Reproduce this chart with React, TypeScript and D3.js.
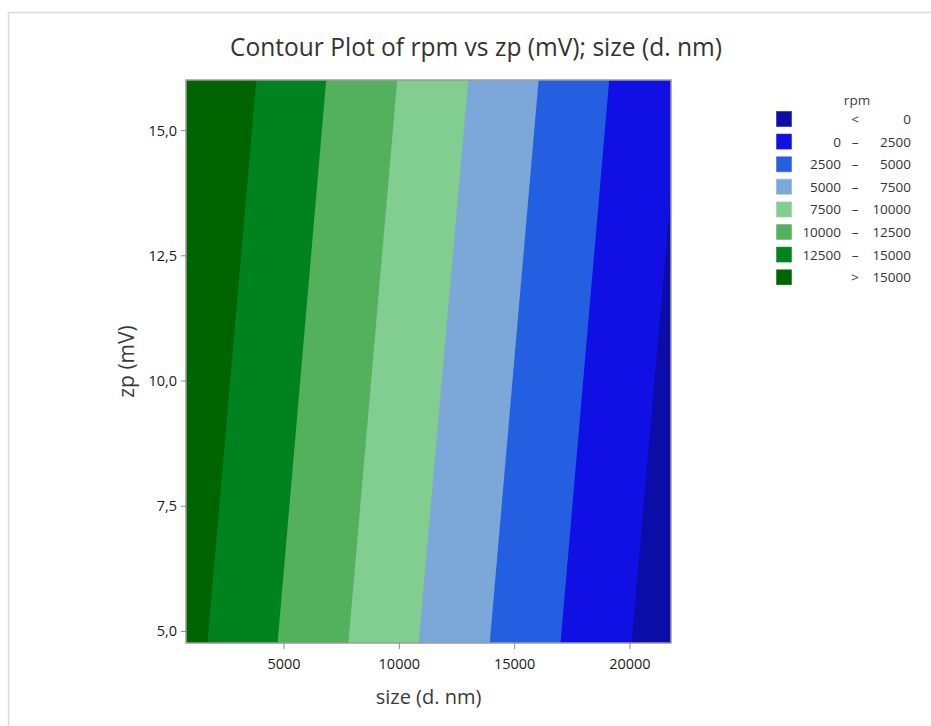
import React from 'react';
import * as d3 from 'd3';

// contour levels (rpm) and where each boundary line crosses the bottom / top of the plot
const levels = [0, 2500, 5000, 7500, 10000, 12500, 15000];
const sizeAtZpMin = [20070, 16990, 13920, 10840, 7790, 4720, 1680];
const sizeAtZpMax = [22210, 19100, 16040, 12990, 9910, 6830, 3800];

// band colours, from "< 0" up to "> 15000"
const bandColors = ['#0c0ca8', '#1010e4', '#245fe2', '#7ca7d9', '#82cd90', '#53b05c', '#00821f', '#006400'];

const sizeDomain = [750, 21780];
const zpDomain = [4.77, 16.01];
const xTicks = [5000, 10000, 15000, 20000];
const yTicks = [5, 7.5, 10, 12.5, 15];

const font = "'Open Sans', 'Noto Sans', sans-serif";

const App: React.FC = () => {
  const margin = { left: 186, right: 671, top: 80, bottom: 643 };

  const x = d3.scaleLinear().domain(sizeDomain).range([margin.left, margin.right]);
  const y = d3.scaleLinear().domain(zpDomain).range([margin.bottom, margin.top]);

  const fmtY = (v: number) => v.toFixed(1).replace('.', ',');
  const farRight = sizeDomain[1] + 5000;

  // polygon to the right of each boundary; drawn from highest level down so lower bands overlay
  const bandPolys = levels
    .map((lv, i) => ({
      lv,
      color: bandColors[i],
      pts: [
        [x(sizeAtZpMin[i]), y(zpDomain[0])],
        [x(sizeAtZpMax[i]), y(zpDomain[1])],
        [x(farRight), y(zpDomain[1])],
        [x(farRight), y(zpDomain[0])],
      ],
    }))
    .reverse();

  const legendRows = bandColors.map((c, i) => {
    if (i === 0) return { color: c, sym: '<', lo: '', hi: String(levels[0]) };
    if (i === bandColors.length - 1) return { color: c, sym: '>', lo: '', hi: String(levels[levels.length - 1]) };
    return { color: c, sym: '–', lo: String(levels[i - 1]), hi: String(levels[i]) };
  });

  return (
    <svg width={931} height={726} style={{ position: 'absolute', left: 0, top: 0 }} fontFamily={font}>
      <rect x={0} y={0} width={931} height={726} fill="#fff" />
      <rect x={8.5} y={12.5} width={1000} height={1000} fill="#fff" stroke="#dcdcdc" strokeWidth={1.5} />

      <text x={476} y={56} textAnchor="middle" fontSize={25} fill="#333" textLength={492} lengthAdjust="spacingAndGlyphs">
        Contour Plot of rpm vs zp (mV); size (d. nm)
      </text>

      <defs>
        <clipPath id="plotClip">
          <rect x={margin.left} y={margin.top} width={margin.right - margin.left} height={margin.bottom - margin.top} />
        </clipPath>
      </defs>

      <g clipPath="url(#plotClip)">
        <rect x={margin.left} y={margin.top} width={margin.right - margin.left} height={margin.bottom - margin.top} fill={bandColors[bandColors.length - 1]} />
        {bandPolys.map((b) => (
          <polygon key={b.lv} points={b.pts.map((p) => p.join(',')).join(' ')} fill={b.color} />
        ))}
      </g>
      <rect x={margin.left} y={margin.top} width={margin.right - margin.left} height={margin.bottom - margin.top} fill="none" stroke="#9a9a9a" strokeWidth={1.5} />

      {/* x axis */}
      {xTicks.map((t) => (
        <g key={t}>
          <line x1={x(t)} x2={x(t)} y1={margin.bottom} y2={margin.bottom + 6} stroke="#8a8a8a" />
          <text x={x(t)} y={669} textAnchor="middle" fontSize={14.5} fontWeight={500} fill="#1a1a1a">{t}</text>
        </g>
      ))}
      <text x={(margin.left + margin.right) / 2} y={704} textAnchor="middle" fontSize={20} fontWeight={500} fill="#3a3a3a">size (d. nm)</text>

      {/* y axis */}
      {yTicks.map((t) => (
        <g key={t}>
          <line x1={margin.left - 5} x2={margin.left} y1={y(t)} y2={y(t)} stroke="#8a8a8a" />
          <text x={177} y={y(t) + 5} textAnchor="end" fontSize={14.5} fontWeight={500} fill="#1a1a1a">{fmtY(t)}</text>
        </g>
      ))}
      <text transform={`translate(134,${(margin.top + margin.bottom) / 2}) rotate(-90)`} textAnchor="middle" fontSize={21} fontWeight={500} fill="#3a3a3a">zp (mV)</text>

      {/* legend */}
      <text x={857} y={105} textAnchor="middle" fontSize={13.5} fill="#404040">rpm</text>
      {legendRows.map((r, i) => {
        const cy = 119 + i * 22.6;
        return (
          <g key={i}>
            <rect x={776} y={cy - 8} width={16} height={16} fill={r.color} stroke="#ffffff" strokeOpacity={0.5} />
            <text x={841} y={cy + 5} textAnchor="end" fontSize={13.5} fill="#333">{r.lo}</text>
            <text x={855} y={cy + 5} textAnchor="middle" fontSize={13.5} fill="#333">{r.sym}</text>
            <text x={911} y={cy + 5} textAnchor="end" fontSize={13.5} fill="#333">{r.hi}</text>
          </g>
        );
      })}
    </svg>
  );
};

export default App;
